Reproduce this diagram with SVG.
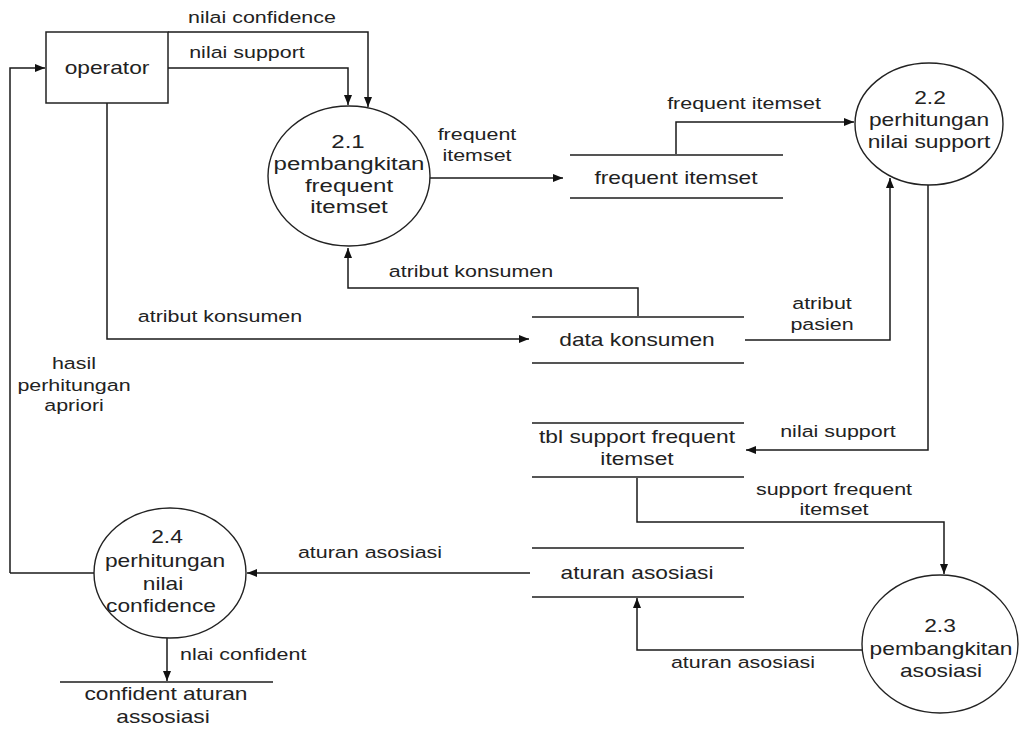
<svg xmlns="http://www.w3.org/2000/svg" width="1020" height="730" viewBox="0 0 1020 730">
  <style>
    text { font-family: "Liberation Sans", Arial, sans-serif; fill: #222; text-anchor: middle; }
    .lbl { font-size: 16.5px; }
    .nd { font-size: 17.5px; }
    .nd-l { font-size: 18.5px; }
    .start { text-anchor: start; }
    .flow { fill: none; stroke: #1a1a1a; stroke-width: 1.5; }
    .proc { fill: #fff; stroke: #222; stroke-width: 1.4; }
    .ext { fill: #fff; stroke: #222; stroke-width: 1.5; }
    .store { stroke: #555; stroke-width: 2; }
  </style>
  <defs>
    <marker id="arr" markerUnits="userSpaceOnUse" markerWidth="11" markerHeight="9" refX="10" refY="4" orient="auto">
      <path d="M0,0 L10,4 L0,8 Z" fill="#111"/>
    </marker>
  </defs>
  <rect width="1020" height="730" fill="#fff"/>

  <!-- data flows -->
  <g id="connectors" class="flow">
    <polyline points="168,32 368,32 368,107" marker-end="url(#arr)"/>
    <polyline points="168,68 348,68 348,105" marker-end="url(#arr)"/>
    <polyline points="10,573 10,68 45,68" marker-end="url(#arr)" class="flow"/>
    <line x1="10" y1="573" x2="94" y2="573"/>
    <polyline points="107,103 107,339 529,339" marker-end="url(#arr)"/>
    <polyline points="638,317 638,288 348,288 348,248" marker-end="url(#arr)"/>
    <line x1="430" y1="178" x2="563" y2="178" marker-end="url(#arr)"/>
    <polyline points="676,155 676,122 854,122" marker-end="url(#arr)"/>
    <polyline points="745,340 890,340 890,178" marker-end="url(#arr)"/>
    <polyline points="928,185 928,450 746,450" marker-end="url(#arr)"/>
    <polyline points="637,477 637,522 944,522 944,574" marker-end="url(#arr)"/>
    <polyline points="862,650 637,650 637,598" marker-end="url(#arr)"/>
    <line x1="530" y1="573" x2="247" y2="573" marker-end="url(#arr)"/>
    <line x1="167" y1="638" x2="167" y2="681" marker-end="url(#arr)"/>
  </g>

  <!-- flow labels -->
  <g id="flow-labels" class="lbl">
    <text class="lbl" transform="translate(262,23) scale(1.3,1)">nilai confidence</text>
    <text class="lbl" transform="translate(247,58) scale(1.3,1)">nilai support</text>
    <text class="lbl" transform="translate(477,140) scale(1.3,1)">frequent</text>
    <text class="lbl" transform="translate(477,161) scale(1.3,1)">itemset</text>
    <text class="lbl" transform="translate(744,109) scale(1.3,1)">frequent itemset</text>
    <text class="lbl" transform="translate(471,277) scale(1.3,1)">atribut konsumen</text>
    <text class="lbl" transform="translate(220,322) scale(1.3,1)">atribut konsumen</text>
    <text class="lbl" transform="translate(822,309) scale(1.3,1)">atribut</text>
    <text class="lbl" transform="translate(822,330) scale(1.3,1)">pasien</text>
    <text class="lbl" transform="translate(74,369) scale(1.3,1)">hasil</text>
    <text class="lbl" transform="translate(74,391) scale(1.3,1)">perhitungan</text>
    <text class="lbl" transform="translate(74,411) scale(1.3,1)">apriori</text>
    <text class="lbl" transform="translate(838,437) scale(1.3,1)">nilai support</text>
    <text class="lbl" transform="translate(834,495) scale(1.3,1)">support frequent</text>
    <text class="lbl" transform="translate(834,515) scale(1.3,1)">itemset</text>
    <text class="lbl" transform="translate(370,558) scale(1.3,1)">aturan asosiasi</text>
    <text class="lbl" transform="translate(743,668) scale(1.3,1)">aturan asosiasi</text>
    <text class="lbl start" transform="translate(180,660) scale(1.3,1)">nlai confident</text>
  </g>

  <!-- external entity -->
  <g id="operator">
    <rect class="ext" x="46" y="32" width="122" height="71"/>
    <text class="nd" transform="translate(107,74) scale(1.3,1)">operator</text>
  </g>

  <!-- processes -->
  <g id="p2-1">
    <ellipse class="proc" cx="349" cy="176" rx="81" ry="70"/>
    <text class="nd-l" transform="translate(348,148) scale(1.3,1)">2.1</text>
    <text class="nd-l" transform="translate(349,170) scale(1.3,1)">pembangkitan</text>
    <text class="nd-l" transform="translate(349,192) scale(1.3,1)">frequent</text>
    <text class="nd-l" transform="translate(349,213) scale(1.3,1)">itemset</text>
  </g>
  <g id="p2-2">
    <ellipse class="proc" cx="929" cy="124" rx="74" ry="61"/>
    <text class="nd" transform="translate(930,104) scale(1.3,1)">2.2</text>
    <text class="nd" transform="translate(929,126) scale(1.3,1)">perhitungan</text>
    <text class="nd" transform="translate(929,148) scale(1.3,1)">nilai support</text>
  </g>
  <g id="p2-3">
    <ellipse class="proc" cx="940" cy="644" rx="78" ry="69"/>
    <text class="nd" transform="translate(940,632) scale(1.3,1)">2.3</text>
    <text class="nd" transform="translate(941,655) scale(1.3,1)">pembangkitan</text>
    <text class="nd" transform="translate(941,677) scale(1.3,1)">asosiasi</text>
  </g>
  <g id="p2-4">
    <ellipse class="proc" cx="170" cy="573" rx="76" ry="65"/>
    <text class="nd" transform="translate(167,543) scale(1.3,1)">2.4</text>
    <text class="nd" transform="translate(165,567) scale(1.3,1)">perhitungan</text>
    <text class="nd" transform="translate(163,590) scale(1.3,1)">nilai</text>
    <text class="nd" transform="translate(161,612) scale(1.3,1)">confidence</text>
  </g>

  <!-- data stores -->
  <g id="store-frequent-itemset">
    <line class="store" x1="570" y1="155" x2="783" y2="155"/>
    <line class="store" x1="570" y1="198" x2="783" y2="198"/>
    <text class="nd" transform="translate(676,184) scale(1.3,1)">frequent itemset</text>
  </g>
  <g id="store-data-konsumen">
    <line class="store" x1="532" y1="317" x2="744" y2="317"/>
    <line class="store" x1="532" y1="363" x2="744" y2="363"/>
    <text class="nd" transform="translate(637,346) scale(1.3,1)">data konsumen</text>
  </g>
  <g id="store-tbl-support">
    <line class="store" x1="532" y1="423" x2="744" y2="423"/>
    <line class="store" x1="532" y1="477" x2="744" y2="477"/>
    <text class="nd" transform="translate(637,443) scale(1.3,1)">tbl support frequent</text>
    <text class="nd" transform="translate(637,465) scale(1.3,1)">itemset</text>
  </g>
  <g id="store-aturan-asosiasi">
    <line class="store" x1="532" y1="548" x2="744" y2="548"/>
    <line class="store" x1="532" y1="597" x2="744" y2="597"/>
    <text class="nd" transform="translate(637,579) scale(1.3,1)">aturan asosiasi</text>
  </g>
  <g id="store-confident">
    <line class="store" x1="60" y1="682" x2="273" y2="682"/>
    <text class="nd" transform="translate(166,700) scale(1.3,1)">confident aturan</text>
    <text class="nd" transform="translate(163,723) scale(1.3,1)">assosiasi</text>
  </g>
</svg>
